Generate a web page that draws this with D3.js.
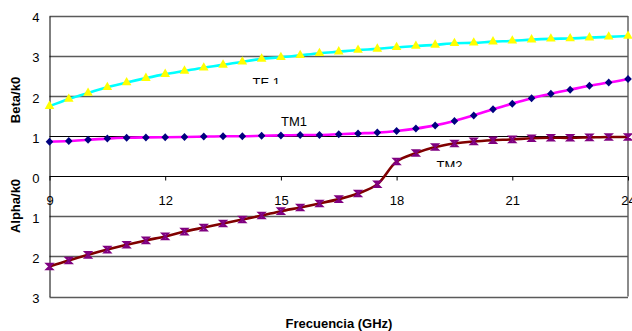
<!DOCTYPE html>
<html>
<head>
<meta charset="utf-8">
<script src="https://cdn.jsdelivr.net/npm/d3@7"></script>
<style>
  body { margin: 0; background: #fff; }
  svg { display: block; font-family: Arial, "Liberation Sans", sans-serif; }
</style>
</head>
<body>
<svg id="chart" width="632" height="331"></svg>
<script>
// frequency in GHz
const freq = [9, 9.5, 10, 10.5, 11, 11.5, 12, 12.5, 13, 13.5, 14, 14.5, 15, 15.5, 16,
              16.5, 17, 17.5, 18, 18.5, 19, 19.5, 20, 20.5, 21, 21.5, 22, 22.5, 23, 23.5, 24];
// beta/k0 (positive) and -alpha/k0 (negative)
const te1 = [1.75, 1.93, 2.08, 2.22, 2.34, 2.45, 2.55, 2.63, 2.71, 2.78, 2.86, 2.93, 2.97, 3.02, 3.07,
             3.11, 3.15, 3.18, 3.22, 3.25, 3.28, 3.32, 3.33, 3.36, 3.38, 3.41, 3.43, 3.44, 3.46, 3.48, 3.50];
const tm1 = [0.86, 0.88, 0.91, 0.94, 0.96, 0.97, 0.975, 0.98, 0.99, 1.0, 1.0, 1.01, 1.02, 1.03, 1.03,
             1.05, 1.07, 1.09, 1.13, 1.19, 1.27, 1.38, 1.52, 1.67, 1.81, 1.95, 2.06, 2.16, 2.26, 2.34, 2.43];
const tm2 = [-2.25, -2.1, -1.96, -1.83, -1.71, -1.6, -1.5, -1.38, -1.28, -1.18, -1.08, -0.98, -0.87, -0.78, -0.68,
             -0.57, -0.43, -0.2, 0.37, 0.58, 0.73, 0.82, 0.87, 0.9, 0.92, 0.95, 0.96, 0.96, 0.97, 0.98, 0.98];
const xTicks = [9, 12, 15, 18, 21, 24];
const yTicks = [4, 3, 2, 1, 0, -1, -2, -3];

const svg = d3.select("#chart");
const x = d3.scaleLinear([9, 24], [49.5, 628]);
const y = d3.scaleLinear([-3, 4], [296.5, 16]);

// gridlines
svg.append("g")
   .selectAll("line")
   .data(yTicks)
   .join("line")
   .attr("x1", x(9)).attr("x2", x(24))
   .attr("y1", d => Math.round(y(d)) + 0.5)
   .attr("y2", d => Math.round(y(d)) + 0.5)
   .attr("stroke", d => (d === 1 || d === 0) ? "#000" : "#5a5a5a")
   .attr("stroke-width", d => (d === 1 || d === 0) ? 1 : 1.4);

// right frame
svg.append("line")
   .attr("x1", x(24)).attr("x2", x(24))
   .attr("y1", y(4)).attr("y2", y(-3))
   .attr("stroke", "#5a5a5a").attr("stroke-width", 1.4);

// y axis
const yAxis = svg.append("g")
   .attr("transform", `translate(${x(9)},0)`)
   .call(d3.axisLeft(y).tickValues(yTicks).tickSize(0).tickPadding(10)
           .tickFormat(d => Math.abs(d)));
yAxis.select(".domain").attr("stroke", "#000");
yAxis.selectAll("text")
     .attr("font-size", 13).attr("fill", "#000")
     .attr("dy", "0.45em");

// x axis on the zero line
const xAxis = svg.append("g")
   .attr("transform", `translate(0,${Math.round(y(0)) + 0.5})`)
   .call(d3.axisBottom(x).tickValues(xTicks).tickSize(4).tickPadding(15));
xAxis.select(".domain").remove();
xAxis.selectAll("line").attr("stroke", "#000");
xAxis.selectAll("text").attr("font-size", 13).attr("fill", "#000");

// series
const series = [
  {name: "TE1", values: te1, line: "#00ffff", marker: "triangle", fill: "#ffff00"},
  {name: "TM1", values: tm1, line: "#ff00ff", marker: "diamond", fill: "#000080"},
  {name: "TM2", values: tm2, line: "#800000", marker: "x", fill: "#800080"}
];

const line = d3.line()
   .x((d, i) => x(freq[i]))
   .y(d => y(d))
   .curve(d3.curveCatmullRom.alpha(0.5));

series.forEach(s => {
  svg.append("path")
     .attr("d", line(s.values))
     .attr("fill", "none")
     .attr("stroke", s.line)
     .attr("stroke-width", 2.6);

  const g = svg.append("g");
  const pts = g.selectAll("path")
     .data(s.values)
     .join("path")
     .attr("transform", (d, i) => `translate(${x(freq[i])},${y(d)})`);

  if (s.marker === "triangle") {
    pts.attr("d", d3.symbol(d3.symbolTriangle, 40)).attr("fill", s.fill);
  } else if (s.marker === "diamond") {
    pts.attr("d", "M0,-4L3.8,0L0,4L-3.8,0Z").attr("fill", s.fill);
  } else {
    pts.attr("d", "M-2.8,-2.8L2.8,-2.8L-2.8,2.8L2.8,2.8Z")
       .attr("fill", "none")
       .attr("stroke", s.fill)
       .attr("stroke-width", 2);
  }
});

// curve labels (the lower part of TE 1 and TM2 is hidden in the original)
const labels = [
  {text: "TE 1", x: 252.5, y: 86.5, clip: 84},
  {text: "TM1", x: 281, y: 125.5, clip: null},
  {text: "TM2", x: 436.5, y: 170, clip: 167}
];
const defs = svg.append("defs");
labels.forEach((l, i) => {
  const t = svg.append("text")
     .attr("x", l.x).attr("y", l.y)
     .attr("font-size", 13).attr("fill", "#000")
     .text(l.text);
  if (l.clip !== null) {
    defs.append("clipPath").attr("id", "clip" + i)
        .append("rect")
        .attr("x", l.x - 5).attr("y", l.clip - 20)
        .attr("width", 60).attr("height", 20);
    t.attr("clip-path", `url(#clip${i})`);
  }
});

// axis titles
svg.append("text")
   .attr("transform", "translate(20,100) rotate(-90)")
   .attr("text-anchor", "middle")
   .attr("font-size", 13).attr("font-weight", "bold")
   .text("Beta/k0");
svg.append("text")
   .attr("transform", "translate(20,206) rotate(-90)")
   .attr("text-anchor", "middle")
   .attr("font-size", 13).attr("font-weight", "bold")
   .text("Alpha/k0");
svg.append("text")
   .attr("x", 339).attr("y", 328)
   .attr("text-anchor", "middle")
   .attr("font-size", 13).attr("font-weight", "bold")
   .text("Frecuencia (GHz)");
</script>
</body>
</html>
